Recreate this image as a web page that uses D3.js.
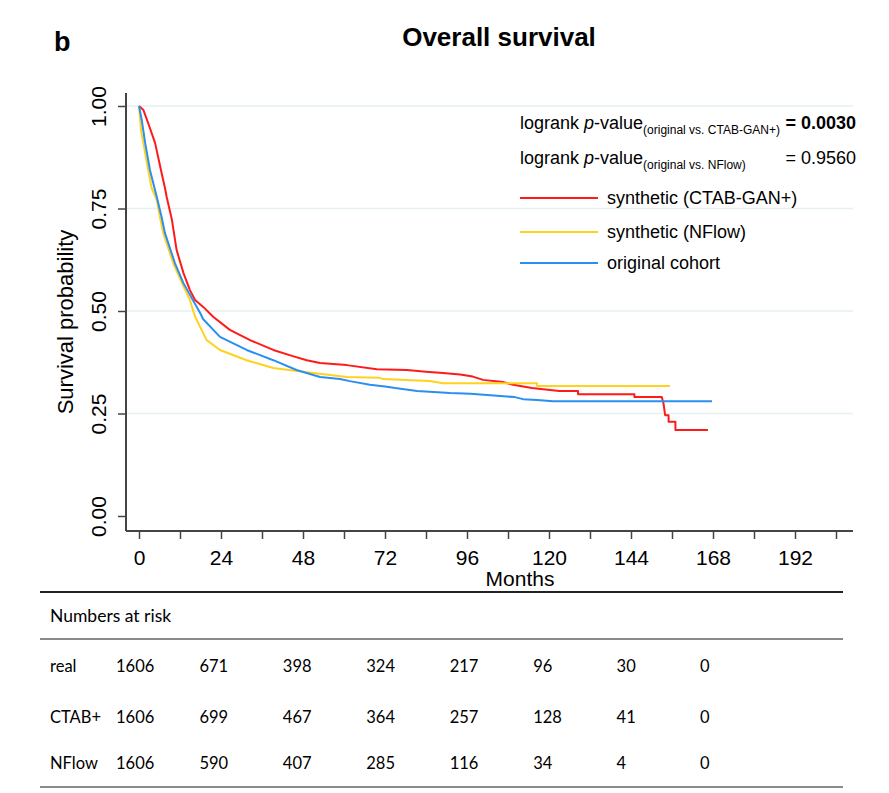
<!DOCTYPE html>
<html>
<head>
<meta charset="utf-8">
<script src="https://cdn.jsdelivr.net/npm/d3@7"></script>
<style>
  body { margin: 0; background: #fff; }
  svg { display: block; }
  .plot text { font-family: "Liberation Sans", Arial, sans-serif; fill: #000; }
  .risk text { font-family: Lato, "Open Sans", sans-serif; fill: #000; }
</style>
</head>
<body>
<div id="vis"></div>
<script>
// KM curves: [month, survival probability]
const ctabCurve = [
  [0, 1.0], [1.3, 0.99], [2.7, 0.958], [4.7, 0.91], [6.6, 0.837], [7.6, 0.80], [8.1, 0.778],
  [9.6, 0.724], [11, 0.649], [13, 0.593], [14.9, 0.551], [16.4, 0.527], [18.8, 0.51],
  [21.7, 0.486], [26.6, 0.454], [32.5, 0.429], [39.3, 0.405], [45, 0.39], [49.1, 0.38],
  [53, 0.373], [60.8, 0.368], [69.6, 0.358], [78.4, 0.356], [84, 0.352], [89, 0.349],
  [94, 0.345], [97.7, 0.34], [100.7, 0.332], [106.5, 0.327], [109.5, 0.32], [115, 0.312],
  [123, 0.305], [128.5, 0.305], [128.5, 0.297], [145, 0.297], [145, 0.29], [153, 0.29],
  [153.5, 0.275], [154, 0.246], [155, 0.246], [155, 0.23], [157, 0.23], [157, 0.21],
  [166.5, 0.21]
];
const nflowCurve = [
  [0, 1.0], [0.6, 0.94], [1.8, 0.885], [2.7, 0.844], [3.7, 0.80], [5.2, 0.771], [6.1, 0.73],
  [7.1, 0.69], [10, 0.617], [13, 0.56], [14.9, 0.527], [16.4, 0.486], [16.9, 0.478],
  [19.8, 0.429], [23.7, 0.405], [31.5, 0.38], [39.3, 0.361], [51, 0.349], [60.8, 0.339],
  [70.5, 0.337], [71.4, 0.334], [85, 0.329], [89, 0.324], [116.5, 0.324], [116.5, 0.317],
  [155.4, 0.317]
];
const realCurve = [
  [0, 1.0], [0.8, 0.966], [1.8, 0.91], [3.2, 0.844], [5.2, 0.778], [6.6, 0.73], [7.6, 0.69],
  [10.5, 0.617], [13, 0.568], [15.4, 0.532], [17.9, 0.495], [18.8, 0.48], [23.7, 0.437],
  [31.5, 0.405], [39.3, 0.38], [46.1, 0.356], [53, 0.339], [58.8, 0.334], [61.7, 0.329],
  [67.6, 0.32], [72, 0.316], [75, 0.312], [81.4, 0.305], [91, 0.30], [97, 0.298],
  [104.8, 0.293], [110, 0.29], [112.4, 0.285], [116.5, 0.283], [121.2, 0.28], [167.7, 0.28]
];

const seriesNames = ["synthetic (CTAB-GAN+)", "synthetic (NFlow)", "original cohort"];
const seriesColors = ["#ff1a1a", "#ffd21f", "#2b8ef0"];

const xTicks = [0, 12, 24, 36, 48, 60, 72, 84, 96, 108, 120, 132, 144, 156, 168, 180, 192, 204];
const xLabels = [0, 24, 48, 72, 96, 120, 144, 168, 192];
const yTicks = [0, 0.25, 0.5, 0.75, 1];

// numbers at risk
const riskMonths = [0, 24, 48, 72, 96, 120, 144, 168];
const riskRows = ["real", "CTAB+", "NFlow"];
const riskReal = [1606, 671, 398, 324, 217, 96, 30, 0];
const riskCtab = [1606, 699, 467, 364, 257, 128, 41, 0];
const riskNflow = [1606, 590, 407, 285, 116, 34, 4, 0];

const W = 889, H = 793;
const svg = d3.select("#vis").append("svg").attr("width", W).attr("height", H);
const plot = svg.append("g").attr("class", "plot");

const xScale = d3.scaleLinear().domain([0, 204]).range([139, 836]);
const yScale = d3.scaleLinear().domain([0, 1]).range([516, 106]);

// title + panel letter
plot.append("text").attr("x", 54).attr("y", 51).style("font-size", "27px")
  .style("font-weight", "bold").text("b");
plot.append("text").attr("x", 499).attr("y", 46).attr("text-anchor", "middle")
  .style("font-size", "26px").style("font-weight", "bold").text("Overall survival");

// gridlines
plot.selectAll(".grid").data(yTicks.filter(d => d > 0)).enter().append("line")
  .attr("class", "grid")
  .attr("x1", 126).attr("x2", 853)
  .attr("y1", d => yScale(d)).attr("y2", d => yScale(d))
  .attr("stroke", "#e6eff2").attr("stroke-width", 1.5);

// y axis
const yAxis = plot.append("g").attr("transform", "translate(126,0)")
  .call(d3.axisLeft(yScale).tickValues(yTicks).tickSize(8).tickFormat(d3.format(".2f")));
yAxis.select(".domain").remove();
yAxis.selectAll(".tick line").attr("stroke", "#444").attr("stroke-width", 1.5);
yAxis.selectAll(".tick text")
  .attr("x", 0).attr("dy", 0)
  .attr("transform", "translate(-20,0) rotate(-90)")
  .attr("text-anchor", "middle")
  .style("font-size", "21px")
  .style("font-family", "'Liberation Sans', Arial, sans-serif");
plot.append("line").attr("x1", 126).attr("x2", 126).attr("y1", 93).attr("y2", 531)
  .attr("stroke", "#444").attr("stroke-width", 2);

plot.append("text")
  .attr("transform", "translate(73,322) rotate(-90)")
  .attr("text-anchor", "middle").style("font-size", "22px").text("Survival probability");

// x axis
const xAxis = plot.append("g").attr("transform", "translate(0,531)")
  .call(d3.axisBottom(xScale).tickValues(xTicks).tickSize(8)
    .tickFormat(d => xLabels.includes(d) ? d : ""));
xAxis.select(".domain").remove();
xAxis.selectAll(".tick line").attr("stroke", "#444").attr("stroke-width", 1.5);
xAxis.selectAll(".tick text").attr("y", 19).style("font-size", "21px")
  .style("font-family", "'Liberation Sans', Arial, sans-serif");
plot.append("line").attr("x1", 126).attr("x2", 853).attr("y1", 531).attr("y2", 531)
  .attr("stroke", "#444").attr("stroke-width", 2);

plot.append("text").attr("x", 520).attr("y", 586).attr("text-anchor", "middle")
  .style("font-size", "21px").text("Months");

// curves
const line = d3.line().x(d => xScale(d[0])).y(d => yScale(d[1]));
[ctabCurve, nflowCurve, realCurve].forEach((c, i) => {
  plot.append("path").datum(c)
    .attr("fill", "none").attr("stroke", seriesColors[i]).attr("stroke-width", 2)
    .attr("stroke-linejoin", "round")
    .attr("d", line);
});

// logrank annotations
const lr1 = plot.append("text").attr("x", 520).attr("y", 129).style("font-size", "18px");
lr1.append("tspan").text("logrank ");
lr1.append("tspan").style("font-style", "italic").text("p");
lr1.append("tspan").text("-value");
lr1.append("tspan").attr("dy", 5).style("font-size", "12px").text("(original vs. CTAB-GAN+)");
plot.append("text").attr("x", 856).attr("y", 129).attr("text-anchor", "end")
  .style("font-size", "18px").style("font-weight", "bold").text("= 0.0030");

const lr2 = plot.append("text").attr("x", 520).attr("y", 164).style("font-size", "18px");
lr2.append("tspan").text("logrank ");
lr2.append("tspan").style("font-style", "italic").text("p");
lr2.append("tspan").text("-value");
lr2.append("tspan").attr("dy", 5).style("font-size", "12px").text("(original vs. NFlow)");
plot.append("text").attr("x", 856).attr("y", 164).attr("text-anchor", "end")
  .style("font-size", "18px").text("= 0.9560");

// legend
const legendY = [198, 232, 263];
seriesNames.forEach((name, i) => {
  plot.append("line").attr("x1", 520).attr("x2", 598)
    .attr("y1", legendY[i]).attr("y2", legendY[i])
    .attr("stroke", seriesColors[i]).attr("stroke-width", 2);
  plot.append("text").attr("x", 607).attr("y", legendY[i] + 6)
    .style("font-size", "18px").text(name);
});

// numbers at risk table
const risk = svg.append("g").attr("class", "risk");
const colScale = d3.scaleLinear().domain([0, 168]).range([116, 700]);
risk.append("line").attr("x1", 40).attr("x2", 843).attr("y1", 592).attr("y2", 592)
  .attr("stroke", "#222").attr("stroke-width", 2);
risk.append("line").attr("x1", 40).attr("x2", 843).attr("y1", 639).attr("y2", 639)
  .attr("stroke", "#8a8a8a").attr("stroke-width", 2);
risk.append("line").attr("x1", 40).attr("x2", 843).attr("y1", 787).attr("y2", 787)
  .attr("stroke", "#8a8a8a").attr("stroke-width", 2);
risk.append("text").attr("x", 50).attr("y", 622).style("font-size", "17.5px")
  .text("Numbers at risk");

const rowY = [672, 723, 769];
[riskReal, riskCtab, riskNflow].forEach((vals, r) => {
  risk.append("text").attr("x", 50).attr("y", rowY[r]).style("font-size", "16.5px")
    .text(riskRows[r]);
  risk.selectAll(".v" + r).data(vals).enter().append("text")
    .attr("x", (d, i) => colScale(riskMonths[i]))
    .attr("y", rowY[r]).style("font-size", "16.5px")
    .text(d => d);
});
</script>
</body>
</html>
